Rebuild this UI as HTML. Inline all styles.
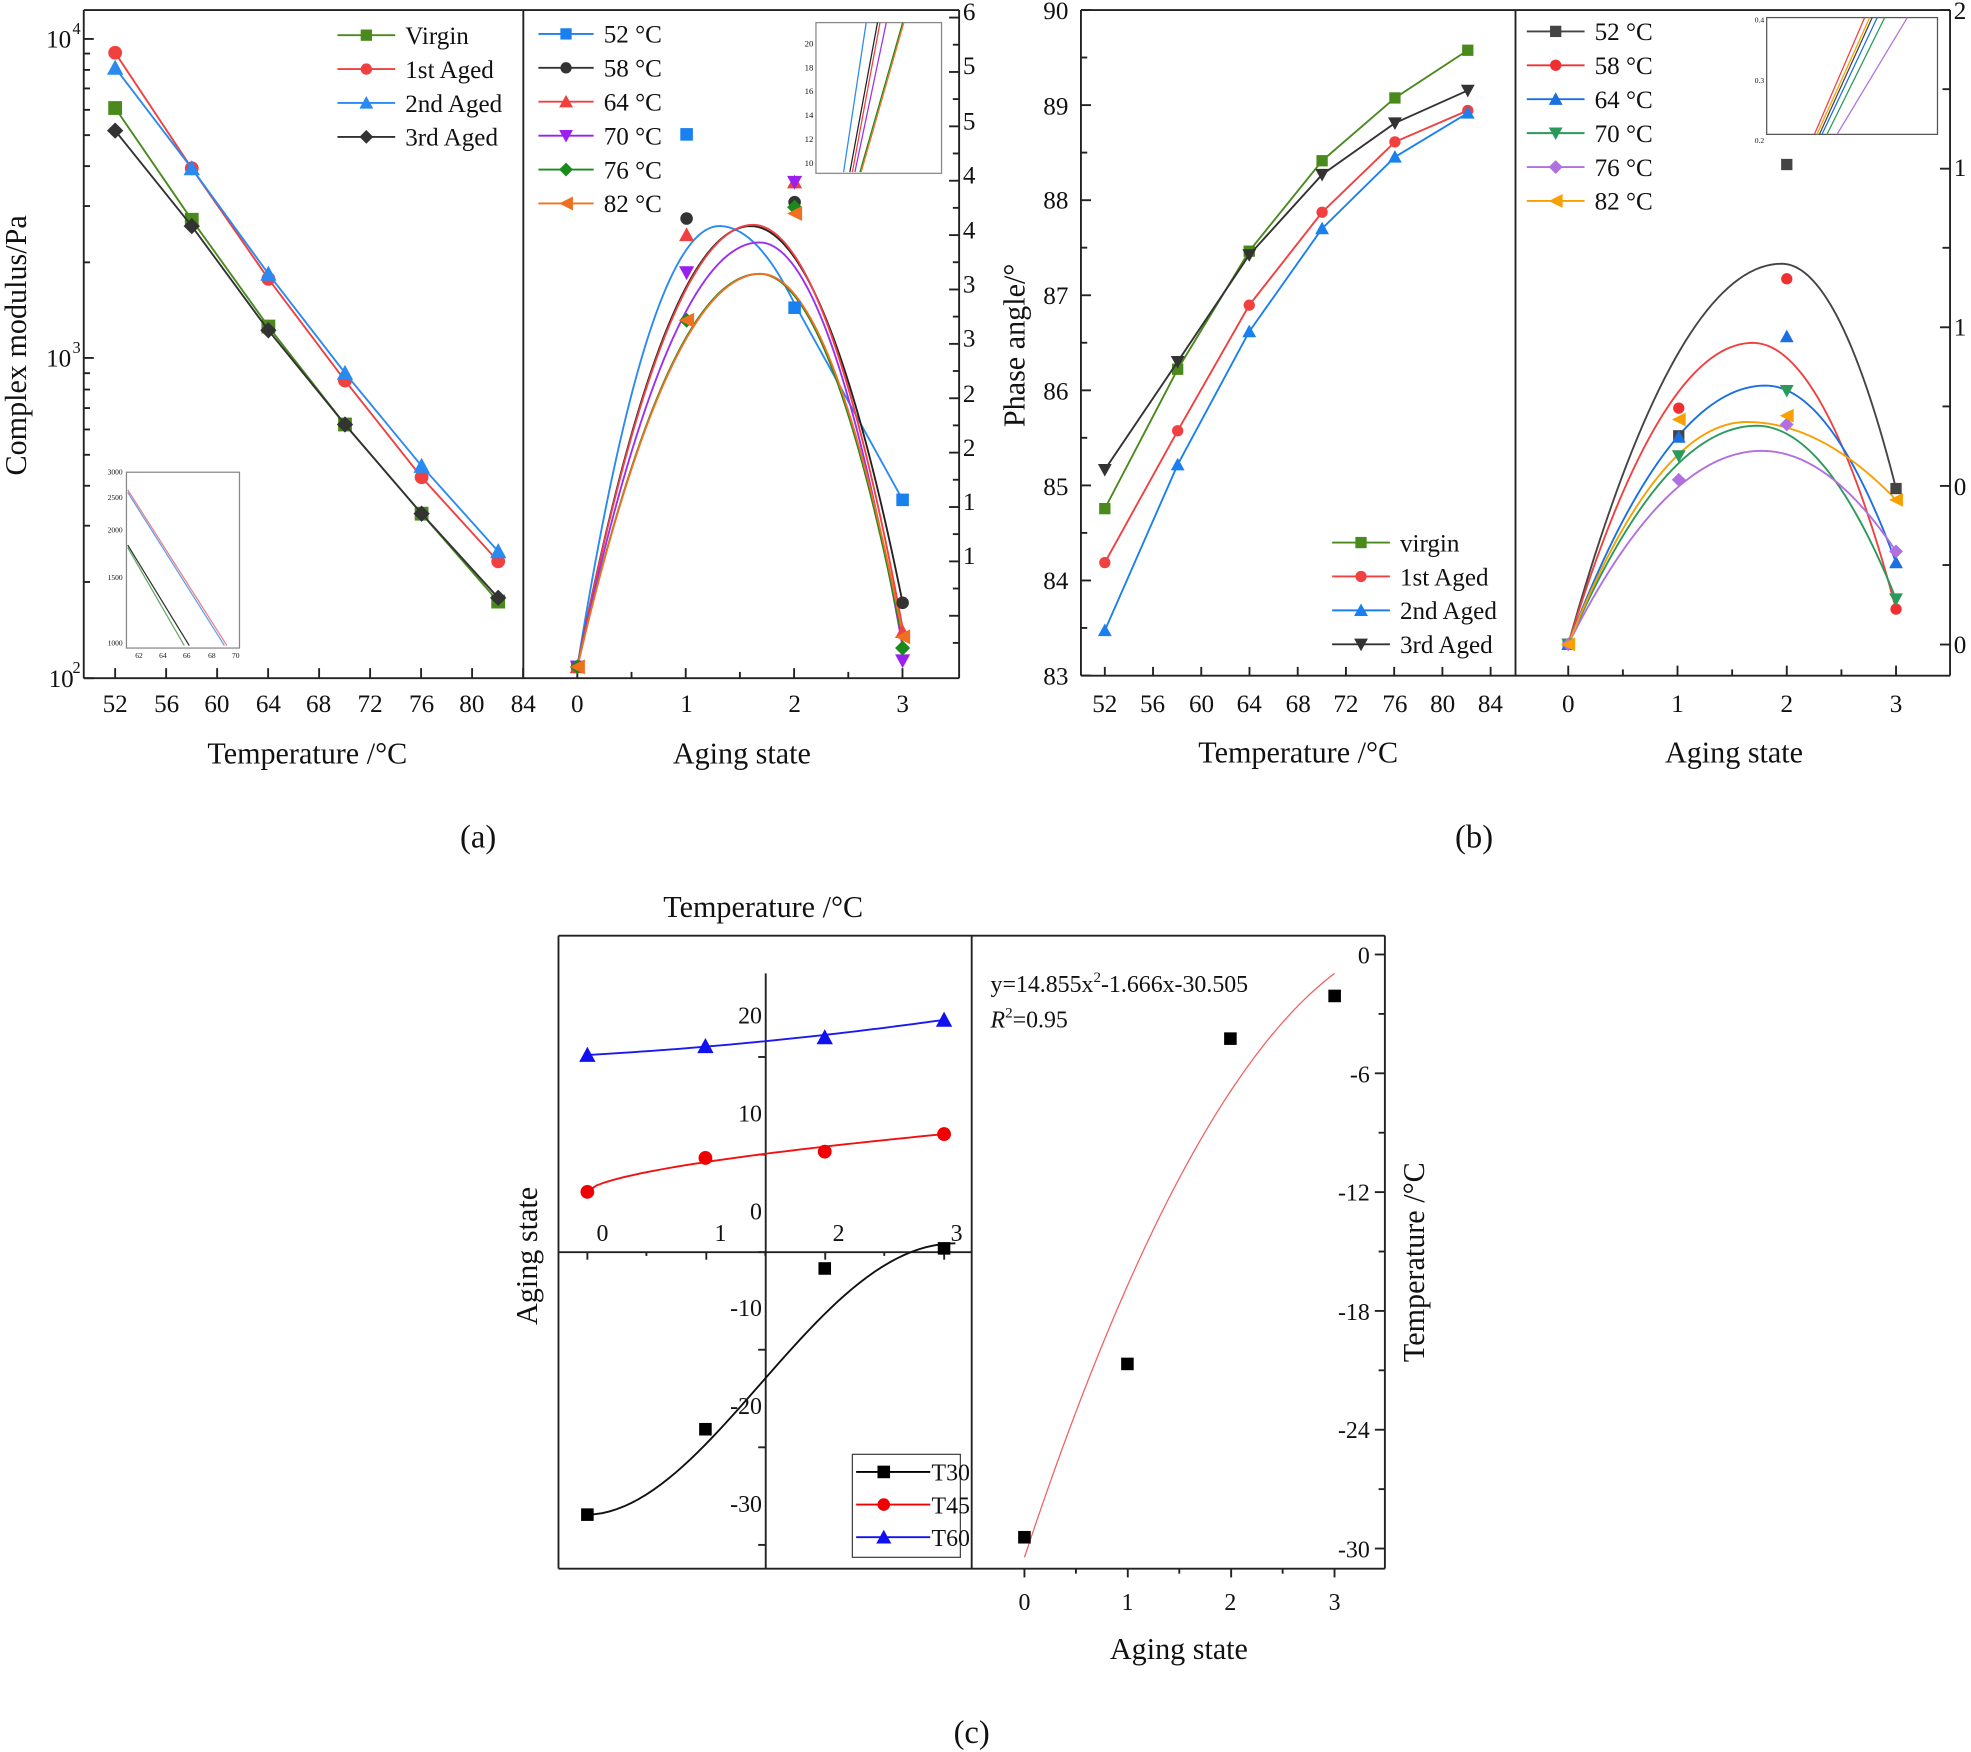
<!DOCTYPE html>
<html><head><meta charset="utf-8"><style>
html,body{margin:0;padding:0;background:#fff;width:1971px;height:1752px;overflow:hidden}
svg{display:block}
text{font-family:"Liberation Serif",serif;fill:#111}
</style></head><body>
<svg id="s" width="1971" height="1752" viewBox="0 0 1568 1395" xmlns="http://www.w3.org/2000/svg">
<g id="g" fill="none" stroke="#222" stroke-width="1.5"></g>
<g font-size="20">
<text x="91" y="567" text-anchor="middle">52</text><text x="132" y="567" text-anchor="middle">56</text><text x="172" y="567" text-anchor="middle">60</text><text x="213" y="567" text-anchor="middle">64</text><text x="253" y="567" text-anchor="middle">68</text><text x="294" y="567" text-anchor="middle">72</text><text x="335" y="567" text-anchor="middle">76</text><text x="375" y="567" text-anchor="middle">80</text><text x="416" y="567" text-anchor="middle">84</text>
<text x="459" y="567" text-anchor="middle">0</text><text x="546" y="567" text-anchor="middle">1</text><text x="632" y="567" text-anchor="middle">2</text><text x="718" y="567" text-anchor="middle">3</text>
<text x="56" y="38" text-anchor="end">10</text><text x="57" y="27" font-size="13">4</text>
<text x="56" y="292" text-anchor="end">10</text><text x="57" y="281" font-size="13">3</text>
<text x="56" y="547" text-anchor="middle" dx="-8">10</text><text x="57" y="536" font-size="13">2</text>
<text x="766" y="16">6</text><text x="766" y="59">5</text><text x="766" y="103">5</text><text x="766" y="146">4</text><text x="766" y="190">4</text><text x="766" y="233">3</text><text x="766" y="276">3</text><text x="766" y="320">2</text><text x="766" y="363">2</text><text x="766" y="406">1</text><text x="766" y="449">1</text>
<text x="879" y="567" text-anchor="middle">52</text><text x="917" y="567" text-anchor="middle">56</text><text x="956" y="567" text-anchor="middle">60</text><text x="994" y="567" text-anchor="middle">64</text><text x="1033" y="567" text-anchor="middle">68</text><text x="1071" y="567" text-anchor="middle">72</text><text x="1110" y="567" text-anchor="middle">76</text><text x="1148" y="567" text-anchor="middle">80</text><text x="1186" y="567" text-anchor="middle">84</text>
<text x="1248" y="567" text-anchor="middle">0</text><text x="1335" y="567" text-anchor="middle">1</text><text x="1422" y="567" text-anchor="middle">2</text><text x="1509" y="567" text-anchor="middle">3</text>
<text x="850" y="15" text-anchor="end">90</text><text x="850" y="91" text-anchor="end">89</text><text x="850" y="166" text-anchor="end">88</text><text x="850" y="242" text-anchor="end">87</text><text x="850" y="318" text-anchor="end">86</text><text x="850" y="394" text-anchor="end">85</text><text x="850" y="469" text-anchor="end">84</text><text x="850" y="545" text-anchor="end">83</text>
<text x="1555" y="15">2</text><text x="1555" y="140">1</text><text x="1555" y="267">1</text><text x="1555" y="394">0</text><text x="1555" y="520">0</text>
</g>
<g font-size="24">
<text x="244" y="608" text-anchor="middle">Temperature /°C</text>
<text x="590" y="608" text-anchor="middle">Aging state</text>
<text x="1033" y="607" text-anchor="middle">Temperature /°C</text>
<text x="1380" y="607" text-anchor="middle">Aging state</text>
<text transform="translate(20,275) rotate(-90)" text-anchor="middle">Complex modulus/Pa</text>
<text transform="translate(815,275) rotate(-90)" text-anchor="middle">Phase angle/°</text>
<text x="380" y="675" text-anchor="middle" font-size="26">(a)</text>
<text x="1173" y="675" text-anchor="middle" font-size="26">(b)</text>
<text x="773" y="1388" text-anchor="middle" font-size="26">(c)</text>
<text x="607" y="730" text-anchor="middle">Temperature /°C</text>
<text x="938" y="1321" text-anchor="middle">Aging state</text>
<text transform="translate(427,1000) rotate(-90)" text-anchor="middle">Aging state</text>
<text transform="translate(1133,1005) rotate(-90)" text-anchor="middle">Temperature /°C</text>
</g>
<g font-size="19">
<text x="815" y="1282" text-anchor="middle">0</text><text x="897" y="1282" text-anchor="middle">1</text><text x="979" y="1282" text-anchor="middle">2</text><text x="1062" y="1282" text-anchor="middle">3</text>
<text x="1090" y="767" text-anchor="end">0</text><text x="1090" y="862" text-anchor="end">-6</text><text x="1090" y="956" text-anchor="end">-12</text><text x="1090" y="1051" text-anchor="end">-18</text><text x="1090" y="1145" text-anchor="end">-24</text><text x="1090" y="1240" text-anchor="end">-30</text>
<text x="479" y="988" text-anchor="middle">0</text><text x="573" y="988" text-anchor="middle">1</text><text x="667" y="988" text-anchor="middle">2</text><text x="761" y="988" text-anchor="middle">3</text>
<text x="606" y="815" text-anchor="end">20</text><text x="606" y="893" text-anchor="end">10</text><text x="606" y="971" text-anchor="end">0</text><text x="606" y="1048" text-anchor="end">-10</text><text x="606" y="1126" text-anchor="end">-20</text><text x="606" y="1204" text-anchor="end">-30</text>
<text x="788" y="790">y=14.855x<tspan font-size="12" dy="-8">2</tspan><tspan dy="8">-1.666x-30.505</tspan></text>
<text x="788" y="818"><tspan font-style="italic">R</tspan><tspan font-size="12" dy="-8">2</tspan><tspan dy="8">=0.95</tspan></text>
</g>
</svg>
<script>
const g=document.getElementById('g');const NS='http://www.w3.org/2000/svg';
function el(t,a,p){const e=document.createElementNS(NS,t);for(const k in a)e.setAttribute(k,a[k]);(p||g).appendChild(e);return e}
function line(x1,y1,x2,y2,c,w){el('line',{x1,y1,x2,y2,stroke:c||'#222','stroke-width':w||1.5})}
function txt(x,y,s,sz,anchor){const e=el('text',{x,y,'font-size':sz||20,'text-anchor':anchor||'start',stroke:'none',fill:'#111'});e.textContent=s}
function mk(type,x,y,c,r){r=r||5.5;const a={fill:c,stroke:'none'};
 if(type=='s')el('rect',Object.assign({x:x-r,y:y-r,width:2*r,height:2*r},a));
 else if(type=='c')el('circle',Object.assign({cx:x,cy:y,r:r},a));
 else if(type=='t')el('polygon',Object.assign({points:`${x},${y-r-1} ${x-r-1},${y+r} ${x+r+1},${y+r}`},a));
 else if(type=='v')el('polygon',Object.assign({points:`${x},${y+r+1} ${x-r-1},${y-r} ${x+r+1},${y-r}`},a));
 else if(type=='d')el('polygon',Object.assign({points:`${x},${y-r-1} ${x+r+1},${y} ${x},${y+r+1} ${x-r-1},${y}`},a));
 else if(type=='l')el('polygon',Object.assign({points:`${x-r-1},${y} ${x+r+1},${y-r-1} ${x+r+1},${y+r+1}`},a));}
function poly(pts,c,w){el('polyline',{points:pts.map(p=>p.join(',')).join(' '),stroke:c,'stroke-width':w||1.5,fill:'none'})}
function para(p0,p1,p2,x0,x1,c,w){const pts=[];for(let i=0;i<=60;i++){const x=x0+(x1-x0)*i/60;
 const y=p0[1]*(x-p1[0])*(x-p2[0])/((p0[0]-p1[0])*(p0[0]-p2[0]))+p1[1]*(x-p0[0])*(x-p2[0])/((p1[0]-p0[0])*(p1[0]-p2[0]))+p2[1]*(x-p0[0])*(x-p1[0])/((p2[0]-p0[0])*(p2[0]-p1[0]));pts.push([x,y])}poly(pts,c,w)}
// two-sided parabola through start, vertex, end
function pk2(x0,y0,xp,yp,x1,y1,c){const a=(y0-yp)/((x0-xp)**2),b=(y1-yp)/((x1-xp)**2);const pts=[];
 for(let i=0;i<=40;i++){const x=x0+(xp-x0)*i/40;pts.push([x,yp+a*(x-xp)**2])}
 for(let i=1;i<=40;i++){const x=xp+(x1-xp)*i/40;pts.push([x,yp+b*(x-xp)**2])}poly(pts,c,1.5)}
function legend(x,y,dy,items,lw){items.forEach((it,i)=>{const yy=y+i*dy;line(x,yy,x+lw,yy,it[1],1.5);mk(it[0],x+lw/2,yy,it[1],4.5);txt(x+lw+8,yy+7,it[2],20)})}

// ===== (a) =====
line(66,8,763,8);line(66,8,66,540);line(66,540,763,540);line(416,8,416,540);line(763,8,763,540);
for(let i=0;i<=8;i++){const x=91+i*40.6;line(x,540,x,532)}
for(let d=0;d<2;d++){for(let k=2;k<=9;k++){const y=540-254.5*(d+Math.log10(k));line(66,y,71,y)}}
[540,285,31].forEach(y=>line(66,y,74,y));
for(let i=0;i<=6;i++){const x=459+i*43.15;line(x,540,x,i%2?535:532)}
for(let i=0;i<12;i++){const y=14+i*43.3;line(763,y,755,y);line(763,y+21.6,758,y+21.6)}
const xa=[91,152,213,274,335,396];
const A=[['s','#4a8a1c',[86,175,260,338,409,479],'Virgin'],['c','#f04040',[42,134,222,303,380,447],'1st Aged'],['t','#2a8af0',[54,134,218,297,371,439],'2nd Aged'],['d','#333',[104,180,263,338,409,476],'3rd Aged']];
A.forEach(s=>{poly(xa.map((x,i)=>[x,s[2][i]]),s[1]);xa.forEach((x,i)=>mk(s[0],x,s[2][i],s[1]))});
legend(268,28,27,A.map(s=>[s[0],s[1],s[3]]),46);
el('rect',{x:100,y:376,width:90,height:140,stroke:'#888','stroke-width':1});
line(101,390,180,514,'#f08080',1);line(101,392,178,514,'#60a0f0',1);line(101,434,150,514,'#333',1);line(101,436,146,514,'#6a6',1);
[['3000',378],['2500',398],['2000',424],['1500',462],['1000',514]].forEach(t=>txt(97,t[1],t[0],6,'end'));
[['62',110],['64',129],['66',148],['68',168],['70',187]].forEach(t=>txt(t[1],524,t[0],6,'middle'));
const X=[459,546,632,718];
pk2(459,531,572,180,632,242,'#2a8af0');line(632,242,718,398,'#2a8af0');
pk2(459,531,597,180,718,480,'#222');pk2(459,531,599,179,718,500,'#f04040');
pk2(459,531,604,193,718,515,'#9b30f0');pk2(459,531,604,218,718,510,'#1a8a1a');pk2(459,531,605,218,718,505,'#f07020');
const B=[['s','#1a80f0',[531,107,245,398],'52 °C'],['c','#333',[531,174,161,480],'58 °C'],['t','#f04040',[531,187,145,503],'64 °C'],['v','#9b20f0',[531,217,145,526],'70 °C'],['d','#1a8a1a',[531,255,165,516],'76 °C'],['l','#f07020',[531,255,170,507],'82 °C']];
B.forEach(s=>X.forEach((x,i)=>mk(s[0],x,s[2][i],s[1],5)));
legend(428,27,27,B.map(s=>[s[0],s[1],s[3]]),44);
el('rect',{x:649,y:18,width:100,height:120,stroke:'#888','stroke-width':1});
line(671,137,689,18,'#2a8af0',1);line(676,137,698,18,'#222',1);line(678,137,700,18,'#f04040',1);line(680,137,705,18,'#9b30f0',1);line(684,137,718,18,'#1a8a1a',1);line(685,137,719,18,'#f07020',1);
[['20',34],['18',53],['16',72],['14',91],['12',110],['10',129]].forEach(t=>txt(647,t[1]+3,t[0],7,'end'));

// ===== (b) =====
line(860,8,1552,8);line(860,8,860,538);line(860,538,1552,538);line(1206,8,1206,538);line(1552,8,1552,538);
for(let i=0;i<=8;i++)line(879+i*38.4,538,879+i*38.4,531);
for(let i=0;i<=7;i++){const y=8+i*75.7;line(860,y,868,y);if(i<7)line(860,y+37.8,865,y+37.8)}
for(let i=0;i<=6;i++){const x=1248+i*43.5;line(x,538,x,i%2?533:530)}
for(let i=0;i<5;i++){const y=8+i*126.3;line(1552,y,1544,y);if(i<4)line(1552,y+63,1546,y+63)}
const xb=[879,937,994,1052,1110,1168];
const C=[['s','#4a8a1c',[405,294,200,128,78,40],'virgin'],['c','#f04040',[448,343,243,169,113,88],'1st Aged'],['t','#1a80f0',[502,370,264,182,125,90],'2nd Aged'],['v','#333',[374,288,203,139,98,72],'3rd Aged']];
C.forEach(s=>{poly(xb.map((x,i)=>[x,s[2][i]]),s[1]);xb.forEach((x,i)=>mk(s[0],x,s[2][i],s[1],4.5))});
legend(1060,432,27,C.map(s=>[s[0],s[1],s[3]]),46);
pk2(1248,513,1418,210,1509,389,'#444');
pk2(1248,513,1395,273,1509,485,'#f04040');
pk2(1248,513,1405,307,1509,448,'#1a70e0');
pk2(1248,513,1398,339,1509,477,'#2a9a5a');
pk2(1248,513,1402,359,1509,439,'#b070e0');
pk2(1248,513,1390,336,1509,398,'#f8a000');
const D=[['s','#444',[513,347,131,389],'52 °C'],['c','#f03030',[513,325,222,485],'58 °C'],['t','#1a70e0',[513,348,268,448],'64 °C'],['v','#2a9a5a',[513,363,311,477],'70 °C'],['d','#b070e0',[513,382,338,439],'76 °C'],['l','#f8a000',[513,334,331,398],'82 °C']];
const XB=[1248,1336,1422,1509];
D.forEach(s=>XB.forEach((x,i)=>mk(s[0],x,s[2][i],s[1],4.5)));
legend(1215,25,27,D.map(s=>[s[0],s[1],s[3]]),46);
el('rect',{x:1406,y:14,width:136,height:93,stroke:'#555','stroke-width':1});
line(1444,107,1484,14,'#f04040',1);line(1446,107,1488,14,'#f8a000',1);line(1448,107,1490,14,'#444',1);line(1450,107,1494,14,'#1a70e0',1);line(1454,107,1500,14,'#2a9a5a',1);line(1462,107,1518,14,'#b070e0',1);
txt(1404,18,'0.4',6,'end');txt(1404,66,'0.3',6,'end');txt(1404,114,'0.2',6,'end');

// ===== (c) =====
line(444,745,1102,745);line(444,745,444,1249);line(444,1249,1102,1249);line(773,745,773,1249);line(1102,745,1102,1249);
line(444,997,773,997);line(609,775,609,1249);
[0,1,2,3].forEach(i=>{const x=467+i*94.7;line(x,997,x,1003);if(i<3)line(x+47,997,x+47,1000)});
for(let i=-3;i<=3;i++){const y=997-77.7*i;if(y>775&&y<1249){line(609,y,603,y)}}
[0,1,2,3].forEach(i=>{const x=815+i*82.3;line(x,1249,x,1256);if(i<3)line(x+41,1249,x+41,1253)});
for(let i=0;i<=5;i++){const y=760+i*94.6;line(1102,y,1094,y);if(i<5)line(1102,y+47.3,1097,y+47.3)}
const xc=[467,561,656,751];
para([467,840],[609,829],[751,812],467,751,'#1a1af0');
(function(){const pts=[];for(let i=0;i<=40;i++){const x=467+284*i/40;pts.push([x,949-46*Math.pow((x-467)/284,0.6)])}poly(pts,'#f01010')})();
(function(){const pts=[];for(let i=0;i<=50;i++){const t=i/50;const x=467+(760-467)*t;const y=1206-216*(0.5-0.5*Math.cos(Math.PI*Math.pow(t,0.95)));pts.push([x,y])}poly(pts,'#111')})();
xc.forEach((x,i)=>mk('t',x,[840,833,826,812][i],'#1010f0',5.5));
xc.forEach((x,i)=>mk('c',x,[949,922,917,903][i],'#f00000',5.5));
xc.forEach((x,i)=>mk('s',x,[1206,1138,1010,994][i],'#000',5));
(function(){const q=[];for(let i=0;i<=50;i++){const t=i/50;const px=815+(1062-815)*t;q.push([px,1240-(1240-775)*(1.6*t-0.6*t*t)])}poly(q,'#f06060',1)})();
[[815,1224],[897,1086],[979,827],[1062,793]].forEach(p=>mk('s',p[0],p[1],'#000',5));
el('rect',{x:678,y:1158,width:86,height:82,stroke:'#444','stroke-width':1});
[['s','#000','T30'],['c','#f00000','T45'],['t','#1010f0','T60']].forEach((it,i)=>{const y=1172+i*26;line(681,y,740,y,it[1],1.5);mk(it[0],703,y,it[1],5);txt(741,y+7,it[2],19)});
</script>
</body></html>
